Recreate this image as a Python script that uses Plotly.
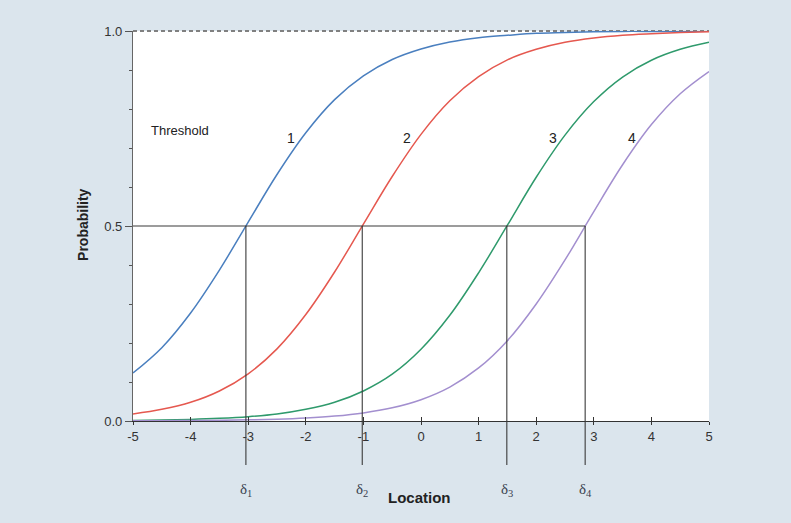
import plotly.graph_objects as go

# ---- data ----
x_vals = [-5, -4.5, -4, -3.5, -3, -2.5, -2, -1.5, -1, -0.5, 0, 0.5, 1, 1.5, 2, 2.5, 3, 3.5, 4, 4.5, 5]
curve1 = [0.123, 0.188, 0.277, 0.387, 0.510, 0.632, 0.739, 0.824, 0.885, 0.927, 0.954, 0.972, 0.983,
          0.989, 0.994, 0.996, 0.998, 0.999, 0.999, 0.999, 1.000]
curve2 = [0.018, 0.030, 0.048, 0.077, 0.121, 0.185, 0.273, 0.382, 0.505, 0.627, 0.735, 0.821, 0.883,
          0.926, 0.953, 0.971, 0.982, 0.989, 0.993, 0.996, 0.998]
curve3 = [0.0015, 0.0025, 0.0041, 0.0068, 0.011, 0.018, 0.030, 0.048, 0.077, 0.120, 0.184, 0.271, 0.380,
          0.502, 0.625, 0.733, 0.819, 0.882, 0.925, 0.953, 0.971]
curve4 = [0.0004, 0.0006, 0.0011, 0.0017, 0.0029, 0.0047, 0.0078, 0.0127, 0.0208, 0.0339, 0.0547, 0.087,
          0.136, 0.206, 0.300, 0.413, 0.537, 0.657, 0.760, 0.839, 0.896]
thresholds = [-3.04, -1.02, 1.49, 2.85]
threshold_names = ["δ<sub>1</sub>", "δ<sub>2</sub>", "δ<sub>3</sub>", "δ<sub>4</sub>"]
curve_labels = ["1", "2", "3", "4"]
curve_label_x = [-2.26, -0.24, 2.29, 3.66]
curve_label_y = 0.726
colors = ["#4a7fbf", "#e5584f", "#2f9a6c", "#a38fcf"]
x_ticks = [-5, -4, -3, -2, -1, 0, 1, 2, 3, 4, 5]
x_tick_text = ["-5", "-4", "-3", "-2", "-1", "0", "1", "2", "3", "4", "5"]
y_ticks = [0.0, 0.5, 1.0]
y_tick_text = ["0.0", "0.5", "1.0"]
half = 0.5

narrow = "Liberation Sans Narrow, Arial Narrow, Liberation Sans, Arial, sans-serif"

fig = go.Figure()

for ys, c in zip([curve1, curve2, curve3, curve4], colors):
    fig.add_trace(go.Scatter(x=x_vals, y=ys, mode="lines", line=dict(color=c, width=1.5, shape="spline"),
                             hoverinfo="skip", showlegend=False))

# horizontal line at p=0.5 from left edge to last threshold (on overlay axis so it exists)
fig.add_trace(go.Scatter(x=[x_ticks[0], thresholds[-1]], y=[half, half], mode="lines",
                         line=dict(color="#3a3a3a", width=1.1), hoverinfo="skip", showlegend=False,
                         xaxis="x2"))

shapes = []
# dashed line at 1.0
shapes.append(dict(type="line", xref="x", yref="y domain", x0=x_ticks[0], x1=x_ticks[-1], y0=1, y1=1,
                   line=dict(color="#808080", width=2, dash="4px,3px"), layer="below"))
# vertical threshold lines extending below the axis
for t in thresholds:
    shapes.append(dict(type="line", xref="x", yref="y domain", x0=t, x1=t, y0=half, y1=-0.113,
                       line=dict(color="#3a3a3a", width=1.1)))

annotations = []
for t, n in zip(thresholds, threshold_names):
    annotations.append(dict(x=t, y=-0.177, xref="x", yref="paper", text=n, showarrow=False,
                            yanchor="middle",
                            font=dict(family="Liberation Serif, DejaVu Serif, serif", size=15, color="#3a4250")))
for lx, lt in zip(curve_label_x, curve_labels):
    annotations.append(dict(x=lx, y=curve_label_y, xref="x", yref="y", text=lt, showarrow=False,
                            font=dict(family=narrow, size=14, color="#222")))
annotations.append(dict(x=-4.72, y=0.745, xref="x", yref="y", text="Threshold", showarrow=False,
                        xanchor="left", font=dict(family=narrow, size=13, color="#222")))
annotations.append(dict(x=0.498, y=-0.195, xref="paper", yref="paper", text="<b>Location</b>",
                        showarrow=False, yanchor="middle", font=dict(family=narrow, size=15, color="#222")))
annotations.append(dict(x=-0.087, y=0.505, xref="paper", yref="paper", text="<b>Probability</b>",
                        showarrow=False, textangle=-90, xanchor="center", yanchor="middle",
                        font=dict(family="Liberation Sans, Arial", size=14, color="#222")))

fig.update_layout(
    width=791, height=523,
    margin=dict(l=133, r=82, t=31, b=102),
    paper_bgcolor="#dbe5ed",
    plot_bgcolor="#ffffff",
    shapes=shapes,
    annotations=annotations,
    xaxis=dict(range=[-5, 5], tickvals=x_ticks, ticktext=x_tick_text, ticks="outside", ticklen=3,
               tickcolor="#333", showline=True, linecolor="#333", linewidth=1.3, showgrid=False,
               zeroline=False, tickfont=dict(family=narrow, size=13, color="#333")),
    xaxis2=dict(range=[-5, 5], overlaying="x", anchor="y", side="bottom", tickvals=x_ticks,
                ticks="inside", ticklen=4, tickcolor="#333", showticklabels=False, showline=False,
                showgrid=False, zeroline=False),
    yaxis=dict(range=[0, 1], tickvals=y_ticks, ticktext=y_tick_text, ticks="outside",
               ticklen=7, tickcolor="#555", showline=True, linecolor="#666", linewidth=1.3,
               showgrid=False, zeroline=False,
               minor=dict(dtick=0.1, tick0=0, ticks="outside", ticklen=3, tickcolor="#555", showgrid=False),
               tickfont=dict(family=narrow, size=13, color="#333")),
)

fig.write_html("out.html", config={"displayModeBar": False},
               post_script="document.body.style.margin='0';document.body.style.background='#dbe5ed';")
